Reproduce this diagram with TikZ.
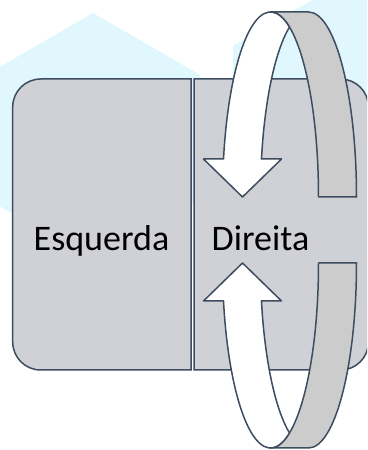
\documentclass[tikz,border=0pt]{standalone}
\usepackage{fontspec}
\setmainfont{Carlito}
\definecolor{hexcyan}{RGB}{225,247,254}
\definecolor{boxgrey}{RGB}{208,209,214}
\definecolor{bandgrey}{RGB}{204,204,204}
\definecolor{edgeslate}{RGB}{62,76,96}
\tikzset{
  panel/.style={draw=edgeslate, fill=boxgrey, line width=1.5pt},
  ringfront/.style={draw=edgeslate, fill=white, line width=1.5pt, line join=round},
  ringback/.style={draw=edgeslate, fill=bandgrey, line width=1.5pt, line join=round},
  lbl/.style={anchor=base, font=\fontsize{36}{43}\selectfont, text=black, inner sep=0pt}
}
\begin{document}
\begin{tikzpicture}[x=1pt, y=1pt]
    \useasboundingbox (0,0) rectangle (367,450);
    \clip (0,0) rectangle (367,450);
    % Background
    \fill[hexcyan] (93,437) -- (200,375.2) -- (200,251.6) -- (93,189.8) -- (-14,251.6) -- (-14,375.2) -- cycle;
    \fill[hexcyan] (340,466) -- (447,404.2) -- (447,280.6) -- (340,218.8) -- (233,280.6) -- (233,404.2) -- cycle;

    % Panels
    \draw[panel] (191,80) -- (40.7,80) arc[start angle=270, end angle=180, radius=28pt]
        -- (12.7,343) arc[start angle=180, end angle=90, radius=28pt] -- (191,371) -- cycle;
    \draw[panel] (194,80) -- (340.5,80) arc[start angle=-90, end angle=0, radius=28pt]
        -- (368.5,343) arc[start angle=0, end angle=90, radius=28pt] -- (194,371) -- cycle;

    % Nodes
    \node[lbl] (esq) at (101.5,199) {Esquerda};
    \node[lbl] (dir) at (260.5,199) {Direita};

    % Arrows
    \draw[ringback] (318.5,253) arc[start angle=0, end angle=90, x radius=48pt, y radius=185pt]
        -- (308.5,438) arc[start angle=90, end angle=0, x radius=48pt, y radius=185pt] -- cycle;
    \draw[ringfront] (223.5,291) arc[start angle=168.15, end angle=66.7, x radius=48pt, y radius=185pt]
        arc[start angle=113.3, end angle=168.15, x radius=48pt, y radius=185pt]
        -- (281.5,291) -- (242.5,253) -- (203.5,291) -- cycle;
    \draw[ringback] (318.5,187) arc[start angle=0, end angle=-90, x radius=48pt, y radius=185pt]
        -- (308.5,2) arc[start angle=-90, end angle=0, x radius=48pt, y radius=185pt] -- cycle;
    \draw[ringfront] (223.5,149) arc[start angle=-168.15, end angle=-66.7, x radius=48pt, y radius=185pt]
        arc[start angle=-113.3, end angle=-168.15, x radius=48pt, y radius=185pt]
        -- (281.5,149) -- (242.5,187) -- (203.5,149) -- cycle;
\end{tikzpicture}
\end{document}
